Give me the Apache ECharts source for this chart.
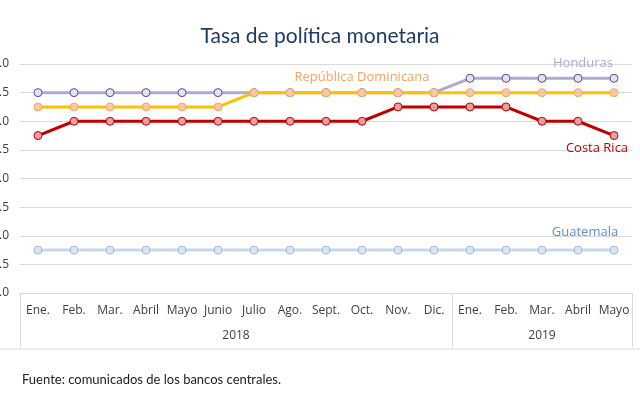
<!DOCTYPE html>
<html>
<head>
<meta charset="UTF-8">
<title>Tasa de política monetaria</title>
<script src="https://cdn.jsdelivr.net/npm/echarts@6/dist/echarts.min.js"></script>
<style>
  body { margin: 0; padding: 0; background: #fff; }
  #main { width: 640px; height: 396px; }
</style>
</head>
<body>
<div id="main"></div>
<script>
var months = ['Ene.', 'Feb.', 'Mar.', 'Abril', 'Mayo', 'Junio', 'Julio', 'Ago.', 'Sept.', 'Oct.', 'Nov.', 'Dic.',
              'Ene.', 'Feb.', 'Mar.', 'Abril', 'Mayo'];
var years = ['2018', '2019'];
var yearCounts = [12, 5];

var honduras   = [5.5, 5.5, 5.5, 5.5, 5.5, 5.5, 5.5, 5.5, 5.5, 5.5, 5.5, 5.5, 5.75, 5.75, 5.75, 5.75, 5.75];
var dominicana = [5.25, 5.25, 5.25, 5.25, 5.25, 5.25, 5.5, 5.5, 5.5, 5.5, 5.5, 5.5, 5.5, 5.5, 5.5, 5.5, 5.5];
var costaRica  = [4.75, 5, 5, 5, 5, 5, 5, 5, 5, 5, 5.25, 5.25, 5.25, 5.25, 5, 5, 4.75];
var guatemala  = [2.75, 2.75, 2.75, 2.75, 2.75, 2.75, 2.75, 2.75, 2.75, 2.75, 2.75, 2.75, 2.75, 2.75, 2.75, 2.75, 2.75];

// year group centres and borders, in category units
var yearCenters = [], yearBorders = [0], acc = 0;
yearCounts.forEach(function (c) {
  yearCenters.push(acc + c / 2);
  acc += c;
  yearBorders.push(acc);
});

var labelFont = 'Open Sans';

// puts a name label on one point of the series
function withLabel(values, idx, name, color, pos, offset) {
  return values.map(function (v, i) {
    if (i !== idx) return v;
    return {
      value: v,
      label: {
        show: true, formatter: name, position: pos, offset: offset, distance: 4,
        color: color, fontSize: 13, fontFamily: labelFont
      }
    };
  });
}

function line(name, data, lineColor, fill, border, z) {
  return {
    name: name, type: 'line', data: data, z: z,
    symbol: 'circle', symbolSize: 8,
    lineStyle: { color: lineColor, width: 3 },
    itemStyle: { color: fill, borderColor: border, borderWidth: 1 },
    emphasis: { disabled: true }
  };
}

var chart = echarts.init(document.getElementById('main'));
chart.setOption({
  animation: false,
  title: {
    text: 'Tasa de política monetaria',
    left: 'center', top: 21,
    textStyle: { color: '#1f3a64', fontSize: 21, fontWeight: 'normal', fontFamily: 'Lato' }
  },
  grid: { left: 20, right: 8, top: 64, bottom: 103, outerBoundsMode: 'none', containLabel: false },
  xAxis: [{
    type: 'category', data: months, boundaryGap: true,
    axisLine: { lineStyle: { color: '#d9d9d9' } },
    axisTick: { show: false },
    axisLabel: { color: '#404040', fontSize: 12, margin: 12, interval: 0, fontFamily: labelFont }
  }, {
    type: 'value', min: 0, max: months.length, position: 'bottom',
    axisLine: { show: false },
    splitLine: { show: false },
    axisTick: { show: true, customValues: yearBorders, length: 54, lineStyle: { color: '#d9d9d9' } },
    axisLabel: {
      customValues: yearCenters, margin: 37, color: '#404040', fontSize: 12, fontFamily: labelFont,
      formatter: function (v) { return years[yearCenters.indexOf(v)] || ''; }
    }
  }],
  yAxis: {
    type: 'value', min: 2, max: 6, interval: 0.5,
    axisLine: { show: false }, axisTick: { show: false },
    splitLine: { lineStyle: { color: '#d9d9d9' } },
    axisLabel: {
      color: '#404040', fontSize: 12, margin: 11, fontFamily: labelFont,
      formatter: function (v) { return v.toFixed(1); }
    }
  },
  graphic: [{
    type: 'line', shape: { x1: 0, y1: 349, x2: 640, y2: 349 },
    style: { stroke: '#d9d9d9', lineWidth: 1 }
  }, {
    type: 'text', left: 22, top: 373,
    style: { text: 'Fuente: comunicados de los bancos centrales.', fill: '#222', fontSize: 13, fontFamily: 'Lato' }
  }],
  series: [
    line('Honduras', withLabel(honduras, 16, 'Honduras', '#b4a7d6', 'top', [-31, 0]),
      '#b4a7d6', '#e6e0f2', '#5f4b8b', 2),
    line('República Dominicana', withLabel(dominicana, 9, 'República Dominicana', '#f4a460', 'top', [0, 0]),
      '#ffc000', '#fbc9a5', '#f4a460', 3),
    line('Costa Rica', withLabel(costaRica, 16, 'Costa Rica', '#c00000', 'bottom', [-17, -2]),
      '#c00000', '#e6a0a0', '#c00000', 4),
    line('Guatemala', withLabel(guatemala, 16, 'Guatemala', '#5b8fd6', 'top', [-29, -3]),
      '#c5d5ea', '#dbe5f1', '#9db7dc', 1)
  ]
});
</script>
</body>
</html>
